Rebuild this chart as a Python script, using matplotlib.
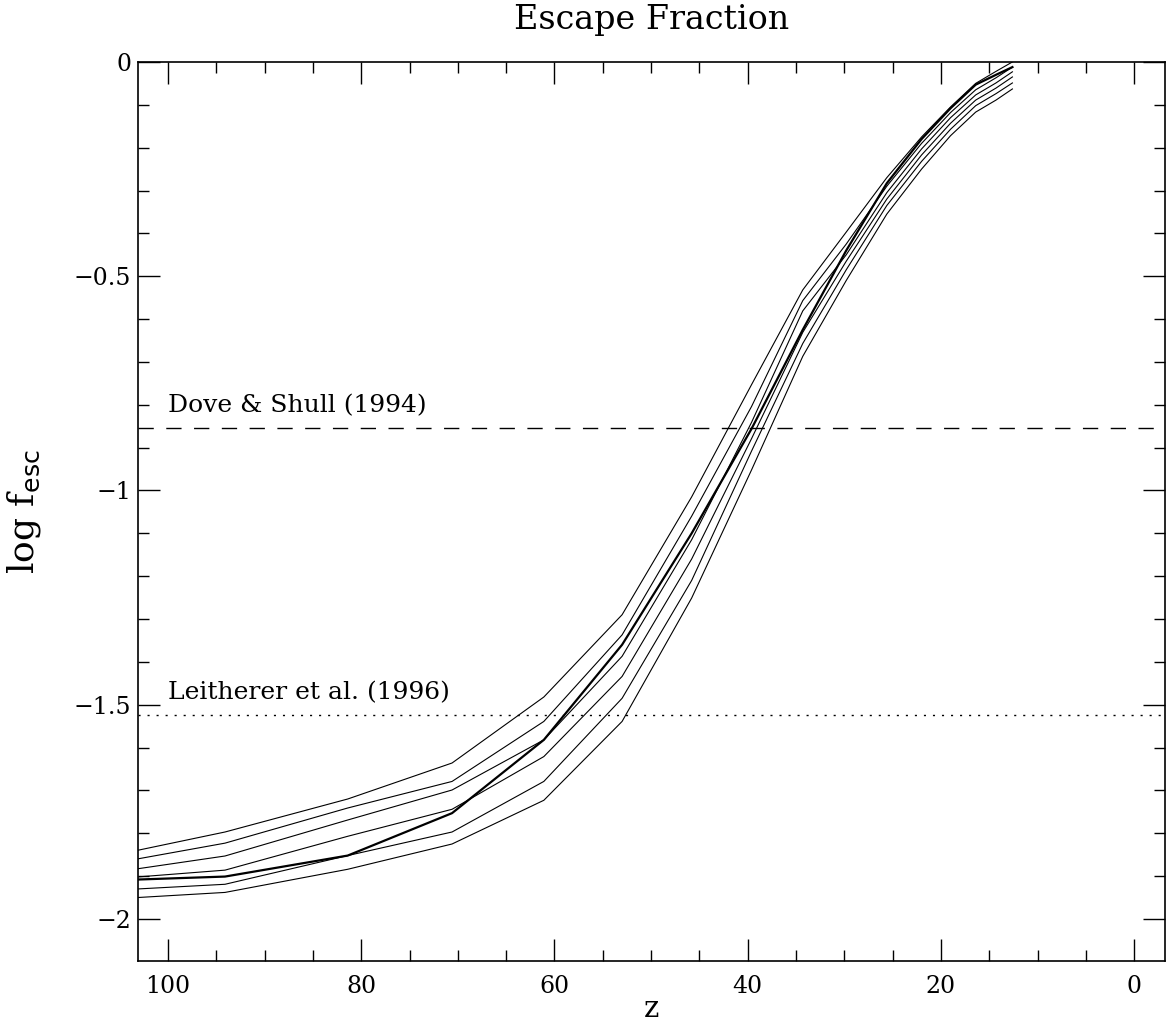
import matplotlib
matplotlib.use("Agg")
import matplotlib.pyplot as plt
from matplotlib.ticker import MultipleLocator, FuncFormatter

# Redshift nodes
z = [103.2, 94.1, 81.4, 70.6, 61.1, 53.0, 45.8, 39.6, 34.3, 29.8, 25.6, 22.0, 19.0, 16.4, 14.3, 12.6]

# Thin model curves (log f_esc)
thin_1 = [-1.840, -1.797, -1.720, -1.636, -1.482, -1.290, -1.015, -0.753, -0.532, -0.397, -0.270, -0.175, -0.105, -0.050, -0.022, 0.000]
thin_2 = [-1.860, -1.823, -1.741, -1.679, -1.539, -1.337, -1.060, -0.804, -0.557, -0.425, -0.290, -0.190, -0.118, -0.065, -0.037, -0.012]
thin_3 = [-1.883, -1.853, -1.769, -1.699, -1.582, -1.387, -1.115, -0.841, -0.581, -0.450, -0.305, -0.203, -0.130, -0.077, -0.049, -0.023]
thin_4 = [-1.902, -1.886, -1.807, -1.744, -1.621, -1.434, -1.160, -0.879, -0.631, -0.465, -0.320, -0.217, -0.143, -0.089, -0.061, -0.035]
thin_5 = [-1.930, -1.919, -1.852, -1.797, -1.679, -1.485, -1.210, -0.908, -0.657, -0.485, -0.335, -0.232, -0.157, -0.102, -0.074, -0.049]
thin_6 = [-1.950, -1.938, -1.884, -1.825, -1.723, -1.539, -1.251, -0.952, -0.687, -0.510, -0.355, -0.250, -0.172, -0.117, -0.089, -0.063]
# Thick (fiducial) curve
thick = [-1.908, -1.901, -1.852, -1.753, -1.582, -1.360, -1.100, -0.856, -0.625, -0.440, -0.283, -0.180, -0.108, -0.053, -0.030, -0.012]

# Reference values
dove_shull = -0.854
leitherer = -1.523
ref_labels = ["Dove & Shull (1994)", "Leitherer et al. (1996)"]

fig = plt.figure(figsize=(11.66, 10.29), dpi=100)
ax = fig.add_axes([0.1184, 0.0661, 0.8808, 0.8737])

serif = "DejaVu Serif"

for s in [thin_1, thin_2, thin_3, thin_4, thin_5, thin_6]:
    ax.plot(z, s, color="black", lw=0.8)
ax.plot(z, thick, color="black", lw=1.6)

ax.axhline(dove_shull, color="black", lw=1.0, dashes=(11, 9))
ax.axhline(leitherer, color="black", lw=1.0, dashes=(1.5, 5))

ax.text(100, dove_shull + 0.025, ref_labels[0], fontsize=18, family=serif, ha="left", va="bottom")
ax.text(100, leitherer + 0.025, ref_labels[1], fontsize=18, family=serif, ha="left", va="bottom")

ax.set_xlim(103.1, -3.2)
ax.set_ylim(-2.098, 0)

ax.xaxis.set_major_locator(MultipleLocator(20))
ax.xaxis.set_minor_locator(MultipleLocator(5))
ax.yaxis.set_major_locator(MultipleLocator(0.5))
ax.yaxis.set_minor_locator(MultipleLocator(0.1))

def yfmt(v, pos):
    if abs(v) < 1e-9:
        return "0"
    s = ("%g" % v)
    return s.replace("-", "\u2212")

ax.yaxis.set_major_formatter(FuncFormatter(yfmt))
ax.xaxis.set_major_formatter(FuncFormatter(lambda v, p: "%d" % round(v)))

ax.tick_params(which="both", direction="in", top=True, right=True, width=1.0, colors="black")
ax.tick_params(which="major", length=16, labelsize=17)
ax.tick_params(axis="x", which="major", pad=10)
ax.tick_params(axis="y", which="major", pad=5)
ax.tick_params(which="minor", length=8)
for lab in ax.get_xticklabels() + ax.get_yticklabels():
    lab.set_family(serif)
for sp in ax.spines.values():
    sp.set_linewidth(1.2)

ax.set_title("Escape Fraction", fontsize=24, family=serif, pad=24)
ax.set_xlabel("z", fontsize=21, family=serif, labelpad=-2)
plt.rcParams["mathtext.fontset"] = "dejavusans"
ax.set_ylabel(r"log f$_{\mathrm{esc}}$", fontsize=26, family=serif, labelpad=22)

fig.savefig("out.png", dpi=100)
